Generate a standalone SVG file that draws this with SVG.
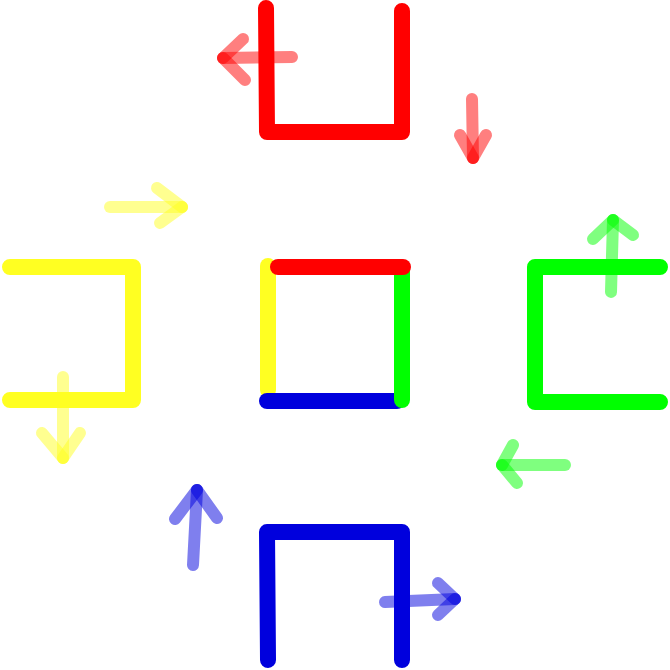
<svg xmlns="http://www.w3.org/2000/svg" width="670" height="670" viewBox="0 0 670 670">
<style>
.b{fill:none;stroke-width:16;stroke-linecap:round;stroke-linejoin:round}
.a line{fill:none;stroke-width:12;stroke-linecap:round;stroke-opacity:0.5}
.r{stroke:#ff0000}.y{stroke:#ffff22}.g{stroke:#00ff00}.u{stroke:#0000dd}
</style>
<rect width="670" height="670" fill="#ffffff"/>
<g id="red-bracket"><polyline class="b r" points="266,8 267,132 402,132 402,11"/></g>
<g id="yellow-bracket"><polyline class="b y" points="10,267 133,267 133,400 10,400"/></g>
<g id="green-bracket"><polyline class="b g" points="660,267 535,267 535,402 660,402"/></g>
<g id="blue-bracket"><polyline class="b u" points="268,660 267,532 402,532 402,660"/></g>
<g id="center-square">
<line class="b y" x1="268" y1="266" x2="268" y2="390"/>
<line class="b u" x1="267" y1="401" x2="397" y2="401"/>
<line class="b g" x1="402" y1="268" x2="402" y2="400"/>
<line class="b r" x1="278" y1="267" x2="403" y2="267"/>
</g>
<g id="connectors">
<g class="a r"><line x1="292" y1="57" x2="223" y2="58"/><line x1="243" y1="39" x2="223" y2="58"/><line x1="223" y1="58" x2="245" y2="80"/></g>
<g class="a r"><line x1="472" y1="99" x2="473" y2="158"/><line x1="460" y1="135" x2="473" y2="158"/><line x1="473" y1="158" x2="486" y2="135"/></g>
<g class="a y"><line x1="110" y1="207" x2="182" y2="207"/><line x1="157" y1="188" x2="182" y2="207"/><line x1="182" y1="207" x2="160" y2="223"/></g>
<g class="a y"><line x1="63" y1="377" x2="63" y2="458"/><line x1="42" y1="433" x2="63" y2="458"/><line x1="63" y1="458" x2="80" y2="433"/></g>
<g class="a g"><line x1="611" y1="292" x2="613" y2="220"/><line x1="593" y1="239" x2="613" y2="220"/><line x1="613" y1="220" x2="633" y2="235"/></g>
<g class="a g"><line x1="565" y1="465" x2="502" y2="465"/><line x1="513" y1="445" x2="502" y2="465"/><line x1="502" y1="465" x2="517" y2="483"/></g>
<g class="a u"><line x1="193" y1="565" x2="197" y2="490"/><line x1="175" y1="519" x2="197" y2="490"/><line x1="197" y1="490" x2="217" y2="518"/></g>
<g class="a u"><line x1="385" y1="602" x2="455" y2="599"/><line x1="438" y1="583" x2="455" y2="599"/><line x1="455" y1="599" x2="438" y2="615"/></g>
</g>
</svg>
